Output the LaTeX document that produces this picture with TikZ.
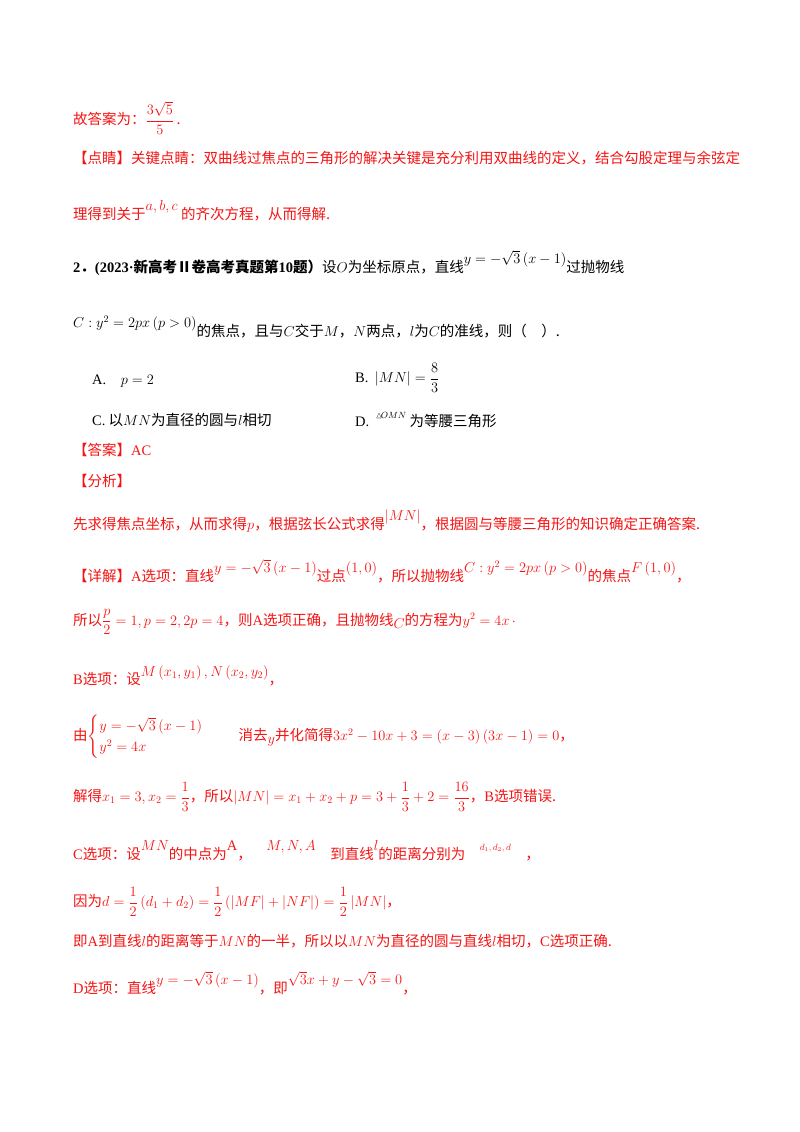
\documentclass[tikz,border=0pt]{standalone}
\usepackage{amsmath,amssymb}
\usepackage{fontspec}
\setmainfont{Noto Sans CJK SC}
\newfontfamily\lat{Liberation Serif}
\definecolor{ans}{RGB}{245,20,20}
\newcommand{\up}[1]{\raisebox{1.1ex}{#1}}
\begin{document}
\begin{tikzpicture}[x=1pt,y=-1pt,
  ln/.style={anchor=west,inner sep=0pt,font=\fontsize{14.5}{17}\selectfont},
  rd/.style={ln,text=ans},
  bk/.style={ln,text=black}]
\useasboundingbox[fill=white] (0,0) rectangle (800,1132);
\node[rd] (l1) at (73,118) {故答案为：$\dfrac{3\sqrt5}{5}$\,.};
\node[rd] (l2) at (73,158) {【点睛】关键点睛：双曲线过焦点的三角形的解决关键是充分利用双曲线的定义，结合勾股定理与余弦定};
\node[rd] (l3) at (73,211) {理得到关于\up{$a,b,c$}\ 的齐次方程，从而得解.};
\node[bk] (l4) at (73,263) {\textbf{{\lat 2}．{\lat (2023·}新高考Ⅱ卷高考真题第{\lat 10}题）}设$O$为坐标原点，直线\up{$y=-\sqrt3\left(x-1\right)$}过抛物线};
\node[bk] (l5) at (73,327) {\up{$C:y^2=2px\left(p>0\right)$}的焦点，且与$C$交于$M$，$N$两点，$l$为$C$的准线，则（\quad ）.};
\node[bk] (oa) at (92,381) {{\lat A.}\quad $p=2$};
\node[bk] (ob) at (355,378) {{\lat B.}\ \ $\left|MN\right|=\dfrac83$};
\node[bk] (oc) at (92,420) {{\lat C.} 以$MN$为直径的圆与$l$相切};
\node[bk] (od) at (355,420) {{\lat D.}\ \ \up{\small$\vartriangle$\!$OMN$} 为等腰三角形};
\node[rd] (l6) at (73,450) {【答案】{\lat AC}};
\node[rd] (l7) at (73,481) {【分析】};
\node[rd] (l8) at (73,521) {先求得焦点坐标，从而求得$p$，根据弦长公式求得\up{$\left|MN\right|$}，根据圆与等腰三角形的知识确定正确答案.};
\node[rd] (l9) at (73,571) {【详解】{\lat A}选项：直线\up{$y=-\sqrt3\left(x-1\right)$}过点\up{$\left(1,0\right)$}，所以抛物线\up{$C:y^2=2px\left(p>0\right)$}的焦点\up{$F\left(1,0\right)$}，};
\node[rd] (l10) at (73,622) {所以$\dfrac p2=1,p=2,2p=4$，则{\lat A}选项正确，且抛物线\raisebox{-0.5ex}{$C$}的方程为$y^2=4x$\,$\cdot$};
\node[rd] (l11) at (73,676) {{\lat B}选项：设\up{$M\left(x_1,y_1\right),N\left(x_2,y_2\right)$}，};
\node[rd] (l12) at (73,737) {由$\begin{cases}y=-\sqrt3\left(x-1\right)\\ y^2=4x\end{cases}$\quad\ \ 消去\raisebox{-0.4ex}{$y$}并化简得$3x^2-10x+3=\left(x-3\right)\left(3x-1\right)=0$，};
\node[rd] (l13) at (73,797) {解得$x_1=3,x_2=\dfrac13$，所以$\left|MN\right|=x_1+x_2+p=3+\dfrac13+2=\dfrac{16}3$，{\lat B}选项错误.};
\node[rd] (l14) at (73,851) {{\lat C}选项：设\up{$MN$}的中点为\up{\lat A}，\quad\up{$M,N,A$}\quad 到直线\up{$l$}的距离分别为\quad\up{\small$d_1,d_2,d$}\quad ，};
\node[rd] (l15) at (73,902) {因为$d=\dfrac12\left(d_1+d_2\right)=\dfrac12\left(\left|MF\right|+\left|NF\right|\right)=\dfrac12\left|MN\right|$，};
\node[rd] (l16) at (73,941) {即{\lat A}到直线$l$的距离等于$MN$的一半，所以以$MN$为直径的圆与直线$l$相切，{\lat C}选项正确.};
\node[rd] (l17) at (73,983) {{\lat D}选项：直线\up{$y=-\sqrt3\left(x-1\right)$}，即\up{$\sqrt3x+y-\sqrt3=0$}，};
\end{tikzpicture}
\end{document}
